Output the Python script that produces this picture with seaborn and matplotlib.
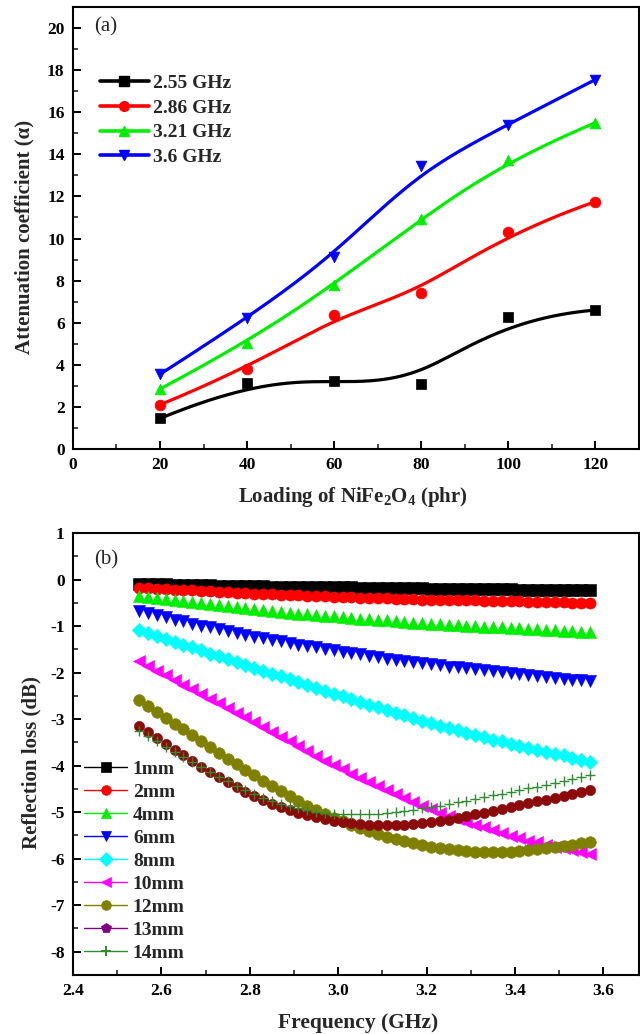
import numpy as np
import matplotlib
matplotlib.use("Agg")
import matplotlib.pyplot as plt
from matplotlib.lines import Line2D
from matplotlib.ticker import MultipleLocator
import seaborn as sns

# ---------------- data: panel (a) ----------------
loading = [20, 40, 60, 80, 100, 120]
alpha_255 = [1.45, 3.15, 3.25, 3.10, 6.25, 6.60]
alpha_286 = [2.10, 3.80, 6.35, 7.40, 10.30, 11.75]
alpha_321 = [2.85, 5.05, 7.80, 10.95, 13.75, 15.50]
alpha_360 = [3.55, 6.20, 9.10, 13.45, 15.40, 17.55]
freq_labels = ["2.55 GHz", "2.86 GHz", "3.21 GHz", "3.6 GHz"]

# ---------------- data: panel (b) ----------------
freq = np.round(np.arange(2.55, 3.5701, 0.02), 2)

rl_1mm = [-0.09, -0.09, -0.10, -0.10, -0.11, -0.11, -0.11, -0.12, -0.12, -0.13,
          -0.13, -0.13, -0.14, -0.14, -0.14, -0.15, -0.15, -0.15, -0.16, -0.16,
          -0.16, -0.17, -0.17, -0.17, -0.17, -0.18, -0.18, -0.18, -0.18, -0.19,
          -0.19, -0.19, -0.19, -0.20, -0.20, -0.20, -0.20, -0.20, -0.21, -0.21,
          -0.21, -0.21, -0.21, -0.22, -0.22, -0.22, -0.22, -0.22, -0.23, -0.23,
          -0.23, -0.23]
rl_2mm = [-0.18, -0.19, -0.20, -0.21, -0.22, -0.22, -0.23, -0.24, -0.25, -0.26,
          -0.27, -0.28, -0.29, -0.30, -0.31, -0.32, -0.33, -0.34, -0.34, -0.35,
          -0.36, -0.36, -0.37, -0.37, -0.38, -0.39, -0.39, -0.40, -0.40, -0.41,
          -0.42, -0.42, -0.43, -0.43, -0.44, -0.44, -0.45, -0.45, -0.45, -0.46,
          -0.46, -0.47, -0.47, -0.47, -0.48, -0.48, -0.49, -0.49, -0.49, -0.50,
          -0.50, -0.51]
rl_4mm = [-0.36, -0.38, -0.40, -0.42, -0.44, -0.46, -0.48, -0.50, -0.52, -0.54,
          -0.56, -0.58, -0.61, -0.63, -0.65, -0.67, -0.69, -0.71, -0.73, -0.74,
          -0.76, -0.78, -0.79, -0.81, -0.82, -0.84, -0.85, -0.87, -0.88, -0.90,
          -0.91, -0.93, -0.94, -0.95, -0.96, -0.97, -0.98, -0.99, -1.00, -1.01,
          -1.02, -1.03, -1.04, -1.05, -1.06, -1.07, -1.08, -1.09, -1.10, -1.11,
          -1.12, -1.13]
rl_6mm = [-0.68, -0.72, -0.77, -0.81, -0.86, -0.90, -0.95, -0.99, -1.03, -1.07,
          -1.11, -1.15, -1.19, -1.23, -1.26, -1.30, -1.33, -1.37, -1.40, -1.43,
          -1.46, -1.49, -1.52, -1.55, -1.58, -1.61, -1.64, -1.67, -1.70, -1.72,
          -1.75, -1.77, -1.80, -1.82, -1.84, -1.87, -1.89, -1.91, -1.93, -1.95,
          -1.97, -1.99, -2.01, -2.03, -2.05, -2.07, -2.09, -2.11, -2.13, -2.15,
          -2.17, -2.19]
rl_8mm = [-1.09, -1.15, -1.21, -1.28, -1.34, -1.40, -1.46, -1.52, -1.59, -1.65,
          -1.71, -1.77, -1.83, -1.90, -1.96, -2.02, -2.08, -2.14, -2.20, -2.27,
          -2.33, -2.39, -2.45, -2.51, -2.57, -2.63, -2.69, -2.75, -2.81, -2.86,
          -2.92, -2.98, -3.04, -3.09, -3.14, -3.19, -3.24, -3.29, -3.34, -3.39,
          -3.44, -3.48, -3.53, -3.57, -3.62, -3.66, -3.70, -3.74, -3.78, -3.83,
          -3.88, -3.92]
rl_10mm = [-1.76, -1.86, -1.96, -2.06, -2.16, -2.26, -2.36, -2.46, -2.56, -2.66,
           -2.76, -2.86, -2.96, -3.06, -3.17, -3.27, -3.38, -3.48, -3.58, -3.69,
           -3.79, -3.89, -3.99, -4.08, -4.17, -4.26, -4.35, -4.44, -4.53, -4.62,
           -4.70, -4.78, -4.86, -4.94, -5.01, -5.08, -5.15, -5.21, -5.27, -5.33,
           -5.39, -5.45, -5.51, -5.56, -5.61, -5.65, -5.70, -5.74, -5.78, -5.82,
           -5.86, -5.90]
rl_12mm = [-2.60, -2.72, -2.85, -2.97, -3.10, -3.22, -3.35, -3.47, -3.60, -3.72,
           -3.85, -3.97, -4.09, -4.21, -4.33, -4.44, -4.55, -4.66, -4.76, -4.86,
           -4.95, -5.04, -5.12, -5.20, -5.27, -5.34, -5.41, -5.47, -5.53, -5.58,
           -5.63, -5.67, -5.71, -5.74, -5.77, -5.80, -5.82, -5.84, -5.85, -5.86,
           -5.86, -5.86, -5.85, -5.84, -5.82, -5.80, -5.78, -5.76, -5.73, -5.70,
           -5.67, -5.64]
rl_13mm = [-3.14, -3.28, -3.41, -3.54, -3.66, -3.78, -3.90, -4.02, -4.14, -4.25,
           -4.36, -4.46, -4.56, -4.65, -4.74, -4.82, -4.89, -4.95, -5.01, -5.06,
           -5.10, -5.14, -5.18, -5.21, -5.23, -5.25, -5.27, -5.28, -5.28, -5.28,
           -5.27, -5.26, -5.24, -5.22, -5.19, -5.16, -5.12, -5.09, -5.05, -5.01,
           -4.97, -4.93, -4.89, -4.85, -4.81, -4.77, -4.73, -4.69, -4.65, -4.61,
           -4.57, -4.53]
rl_14mm = [-3.25, -3.36, -3.47, -3.59, -3.70, -3.81, -3.92, -4.03, -4.14, -4.24,
           -4.34, -4.44, -4.53, -4.61, -4.69, -4.76, -4.82, -4.87, -4.92, -4.96,
           -4.99, -5.01, -5.03, -5.04, -5.04, -5.04, -5.04, -5.03, -5.02, -5.00,
           -4.98, -4.95, -4.92, -4.89, -4.86, -4.82, -4.79, -4.75, -4.71, -4.68,
           -4.64, -4.60, -4.57, -4.53, -4.49, -4.45, -4.41, -4.37, -4.33, -4.29,
           -4.25, -4.21]
thickness_labels = ["1mm", "2mm", "4mm", "6mm", "8mm", "10mm", "12mm", "13mm", "14mm"]


def bspline(xs, ys, n=300, k=3):
    """Clamped uniform cubic B-spline using the points as control points."""
    P = np.column_stack([xs, ys]).astype(float)
    m = len(P)
    knots = np.concatenate([np.zeros(k), np.arange(m - k + 1), np.full(k, m - k)]).astype(float)
    t = np.linspace(0, m - k, n)
    N = np.zeros((n, len(knots) - 1))
    for i in range(len(knots) - 1):
        N[:, i] = (t >= knots[i]) & (t < knots[i + 1])
    N[t == knots[-1], m - 1] = 1.0
    for p in range(1, k + 1):
        Nn = np.zeros((n, len(knots) - 1 - p))
        for i in range(len(knots) - 1 - p):
            d1 = knots[i + p] - knots[i]
            d2 = knots[i + p + 1] - knots[i + 1]
            a = (t - knots[i]) / d1 * N[:, i] if d1 > 0 else 0.0
            b = (knots[i + p + 1] - t) / d2 * N[:, i + 1] if d2 > 0 else 0.0
            Nn[:, i] = a + b
        N = Nn
    C = N @ P
    return C[:, 0], C[:, 1]


sns.set_theme(style="ticks")
plt.rcParams["font.family"] = ["Liberation Serif", "DejaVu Serif"]
plt.rcParams["mathtext.fontset"] = "custom"
plt.rcParams["mathtext.rm"] = "Liberation Serif"
plt.rcParams["mathtext.bf"] = "Liberation Serif:bold"
plt.rcParams["mathtext.default"] = "bf"
plt.rcParams["axes.unicode_minus"] = False

fig = plt.figure(figsize=(6.4, 10.34), dpi=100)
ax1 = fig.add_axes([0.114, 0.5658, 0.884, 0.4274])
ax2 = fig.add_axes([0.114, 0.0571, 0.884, 0.4274])

SPINE_W = 1.5
TICK_FS = 12.5
LABEL_FS = 15
LEG_FS = 14


def style_axes(ax):
    for s in ax.spines.values():
        s.set_linewidth(SPINE_W)
        s.set_color("black")
    ax.tick_params(which="major", direction="in", length=6, width=1.4,
                   labelsize=TICK_FS, top=False, right=False, pad=6, colors="black")
    ax.tick_params(which="minor", direction="in", length=3.5, width=1.2,
                   top=False, right=False)
    for lab in ax.get_xticklabels() + ax.get_yticklabels():
        lab.set_fontweight("bold")


# ---------------- panel (a) ----------------
series_a = [alpha_255, alpha_286, alpha_321, alpha_360]
colors_a = ["black", "#ff0000", "#00ee00", "#0000ff"]
markers_a = ["s", "o", "^", "v"]
for vals, c, m in zip(series_a, colors_a, markers_a):
    cx, cy = bspline(loading, vals)
    sns.lineplot(x=cx, y=cy, sort=False, estimator=None, color=c, lw=2.3, ax=ax1)
    sns.scatterplot(x=loading, y=vals, color=c, marker=m, s=60, edgecolor=c,
                    linewidth=0.5, ax=ax1, zorder=3)

ax1.set_xlim(0, 130)
ax1.set_ylim(0, 21)
ax1.set_xticks([0, 20, 40, 60, 80, 100, 120])
ax1.set_yticks(range(0, 21, 2))
ax1.xaxis.set_minor_locator(MultipleLocator(10))
ax1.yaxis.set_minor_locator(MultipleLocator(1))
style_axes(ax1)
ax1.set_xlabel(r"Loading of NiFe$_2$O$_4$ (phr)", fontsize=LABEL_FS, fontweight="bold")
ax1.set_ylabel("Attenuation coefficient (α)", fontsize=LABEL_FS, fontweight="bold")
ax1.xaxis.set_label_coords(0.494, -0.082)
ax1.yaxis.set_label_coords(-0.068, 0.48)
ax1.text(0.037, 0.955, "(a)", transform=ax1.transAxes, fontsize=15, va="center", ha="left")

handles_a = [Line2D([], [], color=c, marker=m, lw=2.6, markersize=7)
             for c, m in zip(colors_a, markers_a)]
leg1 = ax1.legend(handles_a, freq_labels, loc="upper left", bbox_to_anchor=(0.048, 0.848),
                  frameon=False, prop={"weight": "bold", "size": LEG_FS},
                  handlelength=2.5, handletextpad=0.2, labelspacing=0.37,
                  borderpad=0, borderaxespad=0)

# ---------------- panel (b) ----------------
series_b = [rl_1mm, rl_2mm, rl_4mm, rl_6mm, rl_8mm, rl_10mm, rl_12mm, rl_13mm, rl_14mm]
colors_b = ["black", "#ff0000", "#00ee00", "#0000ff", "#00ffff", "#ff00ff",
            "#808000", "#8b0a0a", "#2e8b2e"]
markers_b = ["s", "o", "^", "v", "D", "<", "o", "o", "+"]
sizes_b = [70, 65, 75, 75, 55, 75, 70, 55, 50]
for vals, c, m, sz in zip(series_b, colors_b, markers_b, sizes_b):
    if m == "+":
        sns.scatterplot(x=freq, y=vals, color=c, marker=m, s=sz, linewidth=1.0, ax=ax2, zorder=3)
    else:
        sns.scatterplot(x=freq, y=vals, color=c, marker=m, s=sz, edgecolor=c,
                        linewidth=0.4, ax=ax2, zorder=3)

ax2.set_xlim(2.4, 3.68)
ax2.set_ylim(-8.5, 1.0)
ax2.set_xticks([2.4, 2.6, 2.8, 3.0, 3.2, 3.4, 3.6])
ax2.set_xticklabels(["2.4", "2.6", "2.8", "3.0", "3.2", "3.4", "3.6"])
ax2.set_yticks(range(-8, 2))
ax2.xaxis.set_minor_locator(MultipleLocator(0.1))
ax2.yaxis.set_minor_locator(MultipleLocator(0.5))
style_axes(ax2)
ax2.set_xlabel("Frequency (GHz)", fontsize=LABEL_FS + 0.5, fontweight="bold")
ax2.set_ylabel("Reflection loss (dB)", fontsize=LABEL_FS, fontweight="bold")
ax2.xaxis.set_label_coords(0.504, -0.085)
ax2.yaxis.set_label_coords(-0.055, 0.48)
ax2.text(0.037, 0.939, "(b)", transform=ax2.transAxes, fontsize=15, va="center", ha="left")

legend_colors_b = ["black", "#ff0000", "#00ee00", "#0000ff", "#00ffff", "#ff00ff",
                   "#808000", "#800080", "#2e8b2e"]
legend_markers_b = ["s", "o", "^", "v", "D", "<", "o", "p", "+"]
handles_b = [Line2D([], [], color=c, marker=m, lw=1.0, markersize=7,
                    markeredgewidth=1.4 if m == "+" else 0.5)
             for c, m in zip(legend_colors_b, legend_markers_b)]
leg2 = ax2.legend(handles_b, thickness_labels, loc="upper left", bbox_to_anchor=(0.02, 0.486),
                  frameon=False, prop={"weight": "bold", "size": LEG_FS},
                  handlelength=2.2, handletextpad=0.3, labelspacing=0.28,
                  borderpad=0, borderaxespad=0)

fig.savefig("out.png", dpi=100)
